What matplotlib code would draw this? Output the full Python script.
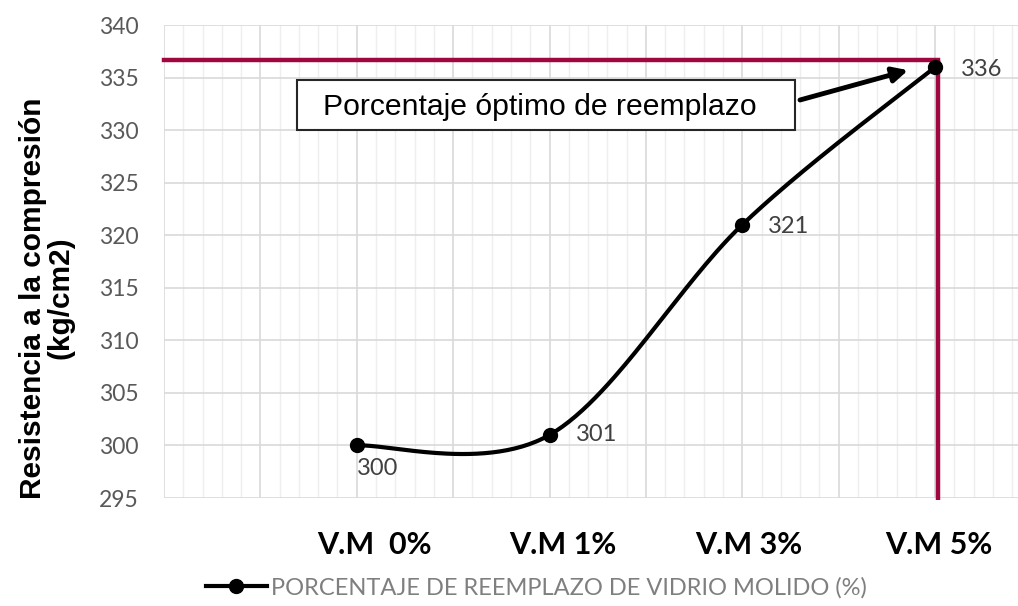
import numpy as np
import matplotlib
matplotlib.use("Agg")
import matplotlib.pyplot as plt
from matplotlib.lines import Line2D
from matplotlib.transforms import ScaledTranslation

# Data
categories = ["V.M  0%", "V.M 1%", "V.M 3%", "V.M 5%"]
resistance = [300, 301, 321, 336]
optimum_level = 336.7
legend_label = "PORCENTAJE DE REEMPLAZO DE VIDRIO MOLIDO (%)"
y_label = "Resistencia a la compresión\n(kg/cm2)"
note_text = "Porcentaje óptimo de reemplazo"

W, H = 1018, 606
fig = plt.figure(figsize=(W / 100, H / 100), dpi=100)
ax = fig.add_axes([164 / W, 1 - 498 / H, 1 - 164 / W, (498 - 25) / H])

xpos = np.arange(1, len(categories) + 1)
ax.set_xlim(0, 4.43)
ax.set_ylim(295, 340)
ax.set_yticks(np.arange(295, 341, 5))

# grid: horizontal at every 5 units, vertical major/minor
ax.set_xticks(xpos)
for yv in np.arange(295, 341, 5):
    ax.axhline(yv, color="#d9d9d9", lw=1.2, zorder=0.5)
for xv in np.arange(0, 4.45, 0.1):
    major = abs(xv * 2 - round(xv * 2)) < 1e-6
    ax.axvline(xv, color="#d9d9d9" if major else "#eeeeee", lw=1.2 if major else 1.0, zorder=0.4)
for s in ax.spines.values():
    s.set_visible(False)
ax.tick_params(axis="both", which="both", length=0)
ax.tick_params(axis="y", labelsize=16.5, labelcolor="#595959", pad=18)
ax.tick_params(axis="x", labelsize=22, pad=24)
ax.set_xticklabels(categories, fontweight="bold", family="Lato", color="#000000")
for t in ax.get_yticklabels():
    t.set_family("Lato")
# nudge category labels slightly to the right
label_shift_px = [18, 13, 6, 4]
for t, dx in zip(ax.get_xticklabels(), label_shift_px):
    t.set_transform(t.get_transform() + ScaledTranslation(dx / 100, 0, fig.dpi_scale_trans))

fig.text(47 / W, 1 - 298 / H, y_label, rotation=90, ha="center", va="center",
         fontsize=21.5, fontweight="bold", family="Liberation Sans", linespacing=1.0)

# smoothed line (Catmull-Rom style Bezier in display space)
fig.canvas.draw()
pts = ax.transData.transform(np.column_stack([xpos, resistance]))
n = len(pts)
curve = []
for i in range(n - 1):
    p0 = pts[i - 1] if i > 0 else pts[i]
    p1, p2 = pts[i], pts[i + 1]
    p3 = pts[i + 2] if i + 2 < n else pts[i + 1]
    c1 = p1 + (p2 - p0) / 6
    c2 = p2 - (p3 - p1) / 6
    t = np.linspace(0, 1, 60)[:, None]
    seg = (1 - t) ** 3 * p1 + 3 * (1 - t) ** 2 * t * c1 + 3 * (1 - t) * t ** 2 * c2 + t ** 3 * p2
    curve.append(seg if i == 0 else seg[1:])
curve = ax.transData.inverted().transform(np.vstack(curve))
ax.plot(curve[:, 0], curve[:, 1], color="black", lw=3, zorder=3, solid_capstyle="round")
ax.plot(xpos, resistance, "o", color="black", ms=10, zorder=4)

# optimum reference lines
ax.plot([0, xpos[-1] + 0.015], [optimum_level, optimum_level], color="#a0063f", lw=3.2, zorder=2,
        clip_on=False)
ax.plot([xpos[-1] + 0.015, xpos[-1] + 0.015], [optimum_level, 294.8], color="#a0063f", lw=3.2,
        zorder=2, clip_on=False, solid_capstyle="butt")

# data labels
offsets = [(0, -23), (26, 0), (26, -2), (26, -2)]
for i, (xv, yv) in enumerate(zip(xpos, resistance)):
    dx, dy = offsets[i]
    ax.annotate(str(yv), (xv, yv), xytext=(dx, dy), textcoords="offset pixels",
                ha="left", va="center", fontsize=17, color="#404040", family="Lato", zorder=5)

# annotation box with arrow
ax.annotate("", xy=(xpos[-1] - 0.14, 335.7), xycoords="data",
            xytext=(800, H - 100), textcoords="figure pixels",
            arrowprops=dict(arrowstyle="-|>,head_length=0.9,head_width=0.45", color="black",
                            lw=3.5, shrinkA=0, shrinkB=0), zorder=5)
box = plt.Rectangle((297 / W, 1 - 130 / H), (795 - 297) / W, 50 / H, transform=fig.transFigure,
                    fc="white", ec="#262626", lw=1.5, zorder=4)
fig.patches.append(box)
note = fig.text(540 / W, 1 - 107 / H, note_text, ha="center", va="center", fontsize=21.7,
                family="Liberation Sans", color="#000000")
note.set_zorder(6)

# legend
handle = Line2D([0], [0], color="black", lw=3, marker="o", ms=10)
leg = fig.legend([handle], [legend_label], loc="center", bbox_to_anchor=(536 / W, 1 - 588 / H),
                 frameon=False, handlelength=2.6, handletextpad=0.15,
                 prop=dict(family="Lato", size=17))
for t in leg.get_texts():
    t.set_color("#7f7f7f")

fig.savefig("out.png", dpi=100)
